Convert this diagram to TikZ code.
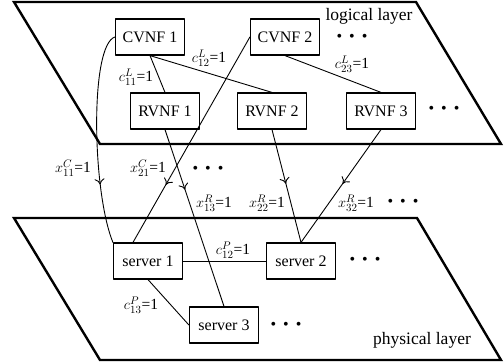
\documentclass[tikz,border=0pt]{standalone}
\usepackage{fontspec}
\setmainfont{Liberation Serif}
\usetikzlibrary{arrows.meta,decorations.markings}

\begin{document}
\begin{tikzpicture}[line cap=round, line join=round, x=1pt, y=-1pt,
    box/.style={draw, line width=1.2pt, minimum width=69pt, minimum height=36pt, inner sep=0pt, font=\fontsize{16}{18}\selectfont},
    layer/.style={line width=2.4pt, line join=miter},
    conn/.style={line width=0.9pt},
    midarrow/.style={postaction={decorate}, decoration={markings, mark=at position #1 with {\arrow{To[length=6pt,width=10pt]}}}},
    lbl/.style={font=\fontsize{15.5}{17}\selectfont, inner sep=0pt},
    more/.style={font=\fontsize{16}{18}\selectfont, inner sep=0pt}]
                \useasboundingbox (0, 0) rectangle (504, 364);

                % logical layer
                \draw[layer] (14, 2) -- (416, 2) -- (501, 144) -- (100, 144) -- cycle;
                \node[font=\fontsize{17.5}{20}\selectfont] (logic) at (369, 16) {logical layer};

                % physical layer
                \draw[layer] (14, 218) -- (417, 218) -- (501, 360) -- (100, 360) -- cycle;
                \node[font=\fontsize{17.5}{20}\selectfont] (phys) at (422, 340) {physical layer};

                % VNFs
                \node[box] (cvnf1) at (150, 37) {CVNF 1};
                \node[box] (cvnf2) at (285, 37) {CVNF 2};
                \node[box] (rvnf1) at (165, 111) {RVNF 1};
                \node[box] (rvnf2) at (272, 111) {RVNF 2};
                \node[box] (rvnf3) at (381, 111) {RVNF 3};

                % servers
                \node[box] (srv1) at (148, 261) {server 1};
                \node[box] (srv2) at (301, 261) {server 2};
                \node[box] (srv3) at (224, 325) {server 3};

                % logical links
                \draw[conn] (cvnf1.south) -- (rvnf1.north);
                \draw[conn] (cvnf1.south) -- (rvnf2.north);
                \draw[conn] (cvnf2.south) -- (rvnf3.north);
                \node[lbl] (c11) at (136, 77) {$c^{L}_{11}$=1};
                \node[lbl] (c12) at (209, 58) {$c^{L}_{12}$=1};
                \node[lbl] (c23) at (352, 64) {$c^{L}_{23}$=1};

                % mappings
                \draw[conn, midarrow=0.72] (cvnf1.west) .. controls +(-25, 8) and +(-21, -52) .. (srv1.north west);
                \draw[conn, midarrow=0.72] (cvnf2.west) -- ([xshift=-15pt]srv1.north);
                \draw[conn, midarrow=0.34] (rvnf1.south) -- (srv3.north);
                \draw[conn, midarrow=0.48] (rvnf2.south) -- (srv2.north);
                \draw[conn, midarrow=0.48] (rvnf3.south) -- (srv2.north);
                \node[lbl] (x11) at (73, 168) {$x^{C}_{11}$=1};
                \node[lbl] (x21) at (148, 168) {$x^{C}_{21}$=1};
                \node[lbl] (x13) at (214, 203) {$x^{R}_{13}$=1};
                \node[lbl] (x22) at (267, 203) {$x^{R}_{22}$=1};
                \node[lbl] (x32) at (356, 203) {$x^{R}_{32}$=1};

                % physical links
                \draw[conn] (srv1.east) -- (srv2.west);
                \draw[conn] (srv1.south) -- (srv3.west);
                \node[lbl] (p12) at (233, 250) {$c^{P}_{12}$=1};
                \node[lbl] (p13) at (141, 305) {$c^{P}_{13}$=1};

                % dots
                \node[more] (d1) at (352, 38) {\textbullet\hspace{7pt}\textbullet\hspace{7pt}\textbullet};
                \node[more] (d2) at (444, 110) {\textbullet\hspace{7pt}\textbullet\hspace{7pt}\textbullet};
                \node[more] (d3) at (208, 170) {\textbullet\hspace{7pt}\textbullet\hspace{7pt}\textbullet};
                \node[more] (d4) at (403, 203) {\textbullet\hspace{7pt}\textbullet\hspace{7pt}\textbullet};
                \node[more] (d5) at (365, 261) {\textbullet\hspace{7pt}\textbullet\hspace{7pt}\textbullet};
                \node[more] (d6) at (286, 326) {\textbullet\hspace{7pt}\textbullet\hspace{7pt}\textbullet};
            \end{tikzpicture}
\end{document}
